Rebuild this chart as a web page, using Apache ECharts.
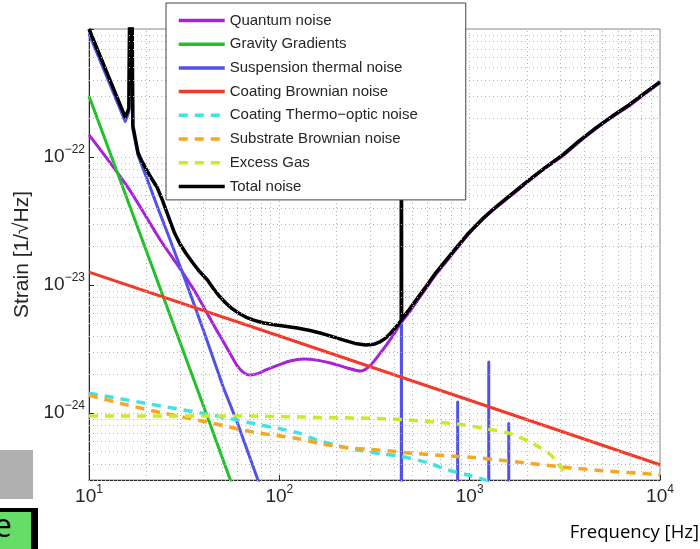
<!DOCTYPE html>
<html>
<head>
<meta charset="utf-8">
<script src="https://cdn.jsdelivr.net/npm/echarts@6/dist/echarts.min.js"></script>
<style>
    html, body { margin: 0; padding: 0; background: #fff; }
    #chart { width: 700px; height: 549px; }
</style>
</head>
<body>
<div id="chart"></div>
<script>
    // tick labels
    const xTicks = [10, 100, 1000, 10000]
    const yTicks = [1e-24, 1e-23, 1e-22]

    const seriesNames = ['Quantum noise', 'Gravity Gradients', 'Suspension thermal noise', 'Coating Brownian noise',
        'Coating Thermo\u2212optic noise', 'Substrate Brownian noise', 'Excess Gas', 'Total noise']

    // [frequency Hz, strain 1/sqrt(Hz)]
    const quantumNoise = [[10, 1.49e-22], [16, 5.8e-23], [23.7, 2.25e-23], [30, 1.35e-23], [36, 8.9e-24], [41.8, 6.0e-24],
        [47, 4.4e-24], [52, 3.4e-24], [56, 2.8e-24], [60, 2.35e-24], [65, 2.07e-24], [70, 1.98e-24], [77, 2.03e-24],
        [85, 2.17e-24], [101, 2.4e-24], [115, 2.56e-24], [134, 2.64e-24], [160, 2.58e-24], [190, 2.44e-24],
        [230, 2.24e-24], [267, 2.13e-24], [300, 2.35e-24], [340, 2.95e-24], [390, 3.9e-24], [433, 5.0e-24],
        [480, 6.1e-24], [532, 7.6e-24], [595, 9.6e-24], [662, 1.2e-23], [800, 1.7e-23], [988, 2.5e-23],
        [1170, 3.25e-23], [1371, 4.0e-23], [1680, 5.1e-23], [2046, 6.5e-23], [2500, 8.2e-23], [3083, 1.02e-22],
        [3750, 1.31e-22], [4603, 1.66e-22], [5600, 2.05e-22], [6871, 2.5e-22], [8300, 3.1e-22], [10000, 3.8e-22]]
    const gravityGradients = [[10, 3.0e-22], [20, 1.85e-23], [40, 1.13e-24], [60, 2.15e-25]]
    const suspensionThermal = [[10, 9.2e-22], [15.5, 1.9e-22], [16.2, 2.25e-22], [16.6, 2.9e-20], [17.0, 1.65e-22],
        [18.1, 1.03e-22], [20, 7.0e-23], [23, 4.0e-23], [26.7, 2.25e-23], [32, 1.1e-23], [40, 4.4e-24],
        [50.7, 1.6e-24], [60, 8.5e-25], [76.6, 3.1e-25], [90, 1.6e-25], [100, 1e-26], [437, 1e-26], [438, 1e-21],
        [439, 1e-26], [864, 1e-26], [865, 1.22e-24], [866, 1e-26], [1258, 1e-26], [1260, 2.5e-24], [1262, 1e-26],
        [1603, 1e-26], [1605, 8.3e-25], [1607, 1e-26], [10000, 1e-26]]
    const coatingBrownian = [[10, 1.26e-23], [100, 4.0e-24], [1000, 1.26e-24], [10000, 3.95e-25]]
    const coatingThermoOptic = [[10, 1.43e-24], [20, 1.19e-24], [41.8, 9.8e-25], [70, 8.4e-25], [126, 7.0e-25],
        [151, 6.3e-25], [200, 5.6e-25], [267, 5.1e-25], [350, 4.8e-25], [433, 4.6e-25], [600, 4.1e-25],
        [766, 3.6e-25], [1000, 3.25e-25], [1244, 2.95e-25], [1500, 2.6e-25]]
    const substrateBrownian = [[10, 1.38e-24], [15, 1.18e-24], [24.5, 1.0e-24], [41.8, 8.5e-25], [73, 7.1e-25],
        [126, 6.3e-25], [171, 5.7e-25], [228, 5.35e-25], [300, 5.2e-25], [384, 5.05e-25], [500, 4.85e-25],
        [825, 4.6e-25], [1048, 4.5e-25], [1922, 4.1e-25], [3013, 3.8e-25], [5000, 3.55e-25], [10000, 3.3e-25]]
    const excessGas = [[10, 9.5e-25], [50, 9.5e-25], [100, 9.4e-25], [200, 9.2e-25], [300, 9.1e-25], [433, 8.9e-25],
        [865, 8.2e-25], [1244, 7.5e-25], [1585, 7.0e-25], [2094, 5.9e-25], [2667, 4.7e-25], [3083, 3.6e-25],
        [3180, 3.3e-25]]
    const totalNoise = [[10, 1.0e-21], [15.5, 2.05e-22], [16.2, 2.4e-22], [16.6, 3e-20], [17.0, 1.75e-22],
        [18.1, 1.08e-22], [19, 9.2e-23], [20, 8.0e-23], [21.3, 6.8e-23], [22.8, 5.8e-23], [24.3, 4.6e-23],
        [26, 3.5e-23], [28, 2.6e-23], [30, 2.1e-23], [32.5, 1.75e-23], [35, 1.5e-23], [38, 1.28e-23],
        [41.8, 1.1e-23], [45, 9.4e-24], [48, 8.3e-24], [52, 7.3e-24], [56, 6.6e-24], [61, 6.05e-24],
        [67, 5.6e-24], [74, 5.3e-24], [82, 5.08e-24], [92, 4.92e-24], [105, 4.78e-24], [124, 4.62e-24],
        [145, 4.42e-24], [164, 4.22e-24], [190, 3.95e-24], [220, 3.7e-24], [250, 3.5e-24], [284, 3.4e-24],
        [315, 3.45e-24], [340, 3.62e-24], [362, 3.85e-24], [384, 4.2e-24], [405, 4.6e-24], [425, 5.0e-24],
        [437, 5.3e-24], [438, 1e-21], [439, 5.4e-24], [480, 6.4e-24], [532, 7.9e-24], [595, 9.9e-24],
        [662, 1.24e-23], [800, 1.75e-23], [988, 2.55e-23], [1170, 3.3e-23], [1371, 4.07e-23], [1680, 5.2e-23],
        [2046, 6.6e-23], [2500, 8.3e-23], [3083, 1.04e-22], [3750, 1.33e-22], [4603, 1.69e-22], [5600, 2.08e-22],
        [6871, 2.55e-22], [8300, 3.15e-22], [10000, 3.86e-22]]

    const seriesData = [quantumNoise, gravityGradients, suspensionThermal, coatingBrownian,
        coatingThermoOptic, substrateBrownian, excessGas, totalNoise]
    const seriesColors = ['#a822dc', '#22c02a', '#5252e8', '#f03a2a', '#40e2e2', '#f5a623', '#cdea2a', '#000000']
    const dashed = [false, false, false, false, true, true, true, false]
    const smoothed = [0.3, 0, 0, 0, 0.3, 0.3, 0.3, 0]

    //ECharts的log轴对1e-25这种量级会被round成0, 所以y值统一乘以1e25后再画, 标签再换算回去
    const Y_EXP = 25
    const Y_SCALE = 1e25
    const Y_MIN = 3e-25
    const Y_MAX = 1e-21

    // minor log grid positions
    const minorX = []
    for (const d of [10, 100, 1000]) for (let m = 2; m <= 9; m++) minorX.push(m * d)
    const minorY = []
    for (const d of [1e-25, 1e-24, 1e-23, 1e-22]) for (let m = 2; m <= 9; m++) if (m * d > Y_MIN) minorY.push(m * d)

    const FONT = 'Liberation Sans'
    const TXT = '#262626'
    const gridLine = {color: '#b4b4b4', width: 1, type: [1, 3]}

    function isTick(v, ticks) {
        return ticks.some(t => Math.abs(v / t - 1) < 1e-6)
    }
    function powText(e) {
        return '{b|10}{s|' + (e < 0 ? '\u2212' + (-e) : e) + '}'
    }
    const richLabel = {
        b: {fontSize: 19, fontFamily: FONT, color: TXT, lineHeight: 26},
        s: {fontSize: 12, fontFamily: FONT, color: TXT, lineHeight: 14, verticalAlign: 'top'}
    }

    const chartInstance = echarts.init(document.getElementById('chart'))

    const series = seriesData.map((data, i) => ({
        name: seriesNames[i],
        type: 'line',
        data: data.map(p => [p[0], p[1] * Y_SCALE]),
        symbol: 'none',
        showSymbol: false,
        clip: true,
        smooth: smoothed[i] || false,
        lineStyle: {
            color: seriesColors[i],
            width: i === 7 ? 3.5 : (dashed[i] ? 3.5 : 3),
            type: dashed[i] ? [9, 7] : 'solid',
            cap: 'butt',
            join: 'round'
        },
        itemStyle: {color: seriesColors[i]},
        z: 2
    }))
    //次网格线
    series.unshift({
        name: 'minor-grid',
        type: 'line',
        data: [[10, Y_MAX * Y_SCALE]],
        symbol: 'none',
        lineStyle: {opacity: 0},
        z: 1,
        markLine: {
            silent: true,
            symbol: ['none', 'none'],
            label: {show: false},
            lineStyle: gridLine,
            animation: false,
            data: minorX.map(v => ({xAxis: v})).concat(minorY.map(v => ({yAxis: v * Y_SCALE})))
        }
    })

    const option = {
        animation: false,
        backgroundColor: '#fff',
        grid: {
            left: 89, right: 40, top: 29, bottom: 69,
            show: true, borderColor: '#8a8a8a', borderWidth: 1, backgroundColor: '#fff'
        },
        legend: {
            orient: 'vertical',
            left: 166,
            top: 3,
            z: 20,
            itemWidth: 46,
            itemHeight: 14,
            itemGap: 8.7,
            padding: [10, 48, 6, 11],
            backgroundColor: '#fff',
            borderColor: '#444',
            borderWidth: 1,
            selectedMode: false,
            data: seriesNames,
            lineStyle: {width: 3.5},
            itemStyle: {opacity: 0},
            textStyle: {fontSize: 15, fontFamily: FONT, color: TXT}
        },
        xAxis: {
            type: 'log',
            logBase: 10,
            min: 10,
            max: 10000,
            axisLine: {show: true, onZero: false, lineStyle: {color: TXT, width: 1}},
            axisTick: {show: true, inside: true, length: 5, lineStyle: {color: TXT}},
            splitLine: {show: true, lineStyle: gridLine},
            axisLabel: {
                margin: 4,
                formatter: v => isTick(v, xTicks) ? powText(Math.round(Math.log10(v))) : '',
                rich: richLabel
            }
        },
        yAxis: {
            type: 'log',
            logBase: 10,
            min: Y_MIN * Y_SCALE,
            max: Y_MAX * Y_SCALE,
            name: 'Strain [1/\u221AHz]',
            nameLocation: 'middle',
            nameGap: 52,
            nameTextStyle: {fontSize: 21, fontFamily: FONT, color: TXT},
            axisLine: {show: true, onZero: false, lineStyle: {color: TXT, width: 1}},
            axisTick: {show: true, inside: true, length: 5, lineStyle: {color: TXT}},
            splitLine: {show: true, lineStyle: gridLine},
            axisLabel: {
                margin: 4,
                formatter: v => isTick(v / Y_SCALE, yTicks) ? powText(Math.round(Math.log10(v)) - Y_EXP) : '',
                rich: richLabel
            }
        },
        graphic: [
            {type: 'rect', left: 0, top: 450, shape: {width: 33, height: 49}, style: {fill: '#b0b0b0'}},
            {type: 'rect', left: 0, top: 508, shape: {width: 38, height: 41}, style: {fill: '#000'}},
            {type: 'rect', left: 0, top: 512, shape: {width: 31, height: 37}, style: {fill: '#66dd66'}},
            {type: 'text', x: -6, y: 512, style: {text: 'e', fontSize: 32, fontFamily: 'Open Sans', fill: '#000'}},
            {
                type: 'text', x: 699, y: 533,
                style: {text: 'Frequency [Hz]', fontSize: 18.5, fontFamily: 'Open Sans', fill: '#000',
                    textAlign: 'right', textVerticalAlign: 'middle'}
            }
        ],
        series: series
    }
    chartInstance.setOption(option)
</script>
</body>
</html>
